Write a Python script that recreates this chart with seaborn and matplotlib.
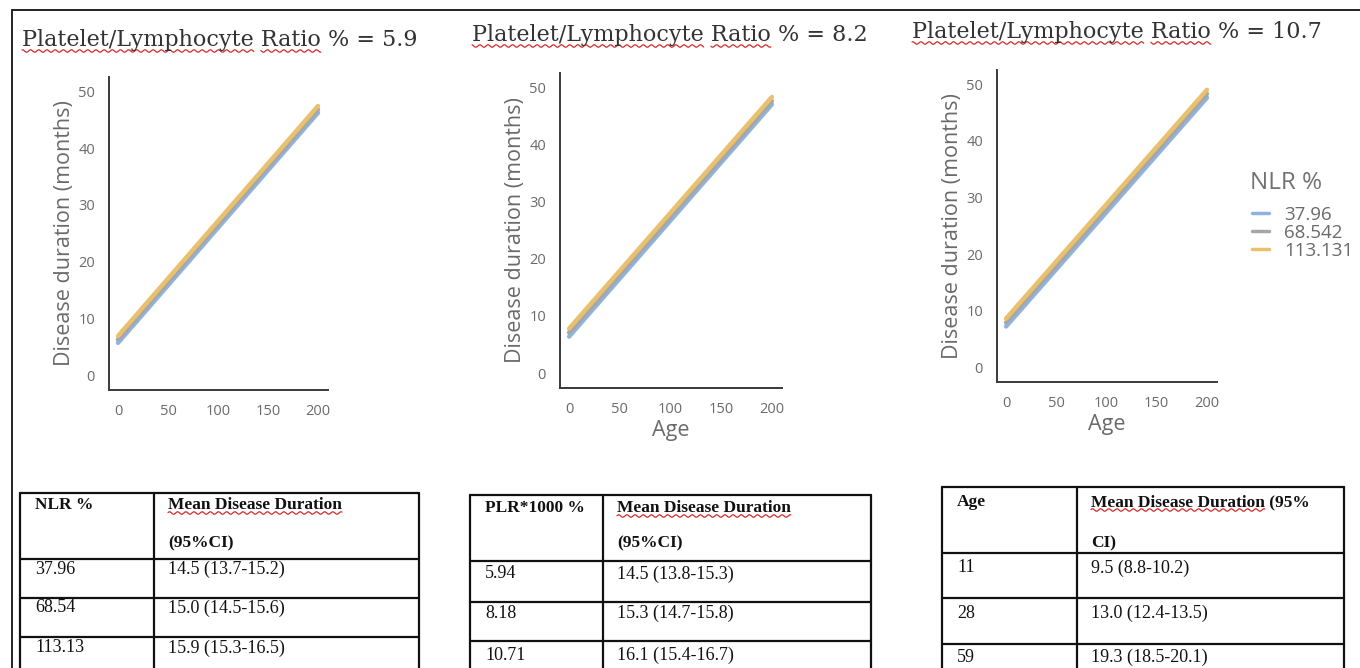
import numpy as np
import pandas as pd
import seaborn as sns
import matplotlib.pyplot as plt

# ------------------------------------------
# DATA
# ------------------------------------------
age_range = [0, 200]
nlr_levels = ["37.96", "68.542", "113.131"]
line_colors = ["#8fb3e0", "#a6a6a6", "#e8c06e"]

# predicted disease duration at age 0 and age 200, per NLR level
p1_start = [5.7, 6.3, 6.9]
p1_end = [46.2, 46.8, 47.4]
p2_start = [6.4, 7.1, 7.8]
p2_end = [47.0, 47.6, 48.3]
p3_start = [7.2, 7.9, 8.6]
p3_end = [47.6, 48.3, 49.0]

plr_values = ["5.9", "8.2", "10.7"]

# tables
t1_head = ["NLR %", "Mean Disease Duration", "(95%CI)"]
t1_col1 = ["37.96", "68.54", "113.13"]
t1_col2 = ["14.5 (13.7-15.2)", "15.0 (14.5-15.6)", "15.9 (15.3-16.5)"]

t2_head = ["PLR*1000 %", "Mean Disease Duration", "(95%CI)"]
t2_col1 = ["5.94", "8.18", "10.71"]
t2_col2 = ["14.5 (13.8-15.3)", "15.3 (14.7-15.8)", "16.1 (15.4-16.7)"]

t3_head = ["Age", "Mean Disease Duration (95%", "CI)"]
t3_col1 = ["11", "28", "59"]
t3_col2 = ["9.5 (8.8-10.2)", "13.0 (12.4-13.5)", "19.3 (18.5-20.1)"]


def make_frame(start, end):
    rows = []
    for lvl, s, e in zip(nlr_levels, start, end):
        rows.append({"Age": age_range[0], "Duration": s, "NLR %": lvl})
        rows.append({"Age": age_range[1], "Duration": e, "NLR %": lvl})
    return pd.DataFrame(rows)


frames = [make_frame(p1_start, p1_end),
          make_frame(p2_start, p2_end),
          make_frame(p3_start, p3_end)]

# ------------------------------------------
# FIGURE
# ------------------------------------------
sns.set_style("white")
plt.rcParams['font.family'] = ['Open Sans', 'DejaVu Sans']

W, H = 1360, 668
fig = plt.figure(figsize=(W / 100, H / 100), dpi=100)
fig.patch.set_facecolor("white")

# background axes in pixel coordinates (border, titles, tables)
bg = fig.add_axes([0, 0, 1, 1])
bg.set_xlim(0, W)
bg.set_ylim(H, 0)
bg.axis("off")

# outer frame of the screenshot
bg.plot([12, W], [10, 10], color="#222222", lw=1.4)
bg.plot([12, 12], [10, H], color="#222222", lw=1.4)

fig.canvas.draw()
renderer = fig.canvas.get_renderer()


def squiggle(x, y, words, **props):
    # red spell-check wave under some words of a text
    full = ""
    for w in words:
        pre = bg.text(x, y, full, **props)
        seg = bg.text(x, y, full + w, **props)
        x0 = pre.get_window_extent(renderer).x1 if full else pre.get_window_extent(renderer).x0
        bb = seg.get_window_extent(renderer)
        pre.remove()
        seg.remove()
        if w.strip():
            xs = np.linspace(x0, bb.x1, int((bb.x1 - x0) * 2) + 2)
            ys = (H - bb.y0) + 1.2 * np.sin(xs / 1.3)
            bg.plot(xs, ys, color="#d42a2a", lw=0.9)
        full = full + w


def px_axes(left, top, right, bottom):
    return fig.add_axes([left / W, 1 - bottom / H, (right - left) / W, (bottom - top) / H])


boxes = [(109, 77, 328, 390), (560, 73, 782, 388), (997, 70, 1217, 382)]
title_pos = [(22, 40), (472, 35), (912, 32)]
xlabels = ["", "Age", "Age"]

palette = dict(zip(nlr_levels, line_colors))
title_props = dict(fontsize=16, family="DejaVu Serif", color="#333333",
                   va="center", ha="left")

for i, (box, df) in enumerate(zip(boxes, frames)):
    ax = px_axes(*box)
    sns.lineplot(data=df, x="Age", y="Duration", hue="NLR %",
                 palette=palette, linewidth=3.2, ax=ax, legend=(i == 2))
    ax.set_xlim(-9, 210)
    ax.set_ylim(-2.6, 52.5)
    ax.set_xticks([0, 50, 100, 150, 200])
    ax.set_yticks([0, 10, 20, 30, 40, 50])
    sns.despine(ax=ax)
    for sp in ["left", "bottom"]:
        ax.spines[sp].set_color("#3a3a3a")
        ax.spines[sp].set_linewidth(1.4)
    ax.tick_params(axis="both", direction="out", length=4, width=1.2,
                   color="#3a3a3a", labelcolor="#6a6a6a", labelsize=10.5, pad=6)
    ax.set_ylabel("Disease duration (months)", fontsize=15.5, color="#6a6a6a", labelpad=2)
    ax.set_xlabel(xlabels[i], fontsize=15.5, color="#6a6a6a", labelpad=2)
    ax.set_facecolor("white")

    if i == 2:
        leg = ax.legend(loc="upper left",
                        bbox_to_anchor=(1252 / W, 1 - 206 / H),
                        bbox_transform=fig.transFigure, frameon=False,
                        fontsize=13.5, handlelength=0.9,
                        handletextpad=0.8, labelspacing=0.0, borderaxespad=0,
                        borderpad=0)
        for t in leg.get_texts():
            t.set_color("#6a6a6a")
        for h in leg.get_lines():
            h.set_linewidth(2.5)
        bg.text(1250, 183, "NLR %", fontsize=17.5, color="#727272",
                va="center", ha="left")

    tx, ty = title_pos[i]
    bg.text(tx, ty, "Platelet/Lymphocyte Ratio % = " + plr_values[i], **title_props)
    squiggle(tx, ty, ["Platelet/Lymphocyte", " ", "Ratio"], **title_props)

# ------------------------------------------
# TABLES
# ------------------------------------------
serif = "Liberation Serif"
body = dict(fontsize=13, family=serif, va="center", ha="left", color="#111111")
head = dict(fontsize=12.5, family=serif, va="center", ha="left",
            color="#111111", weight="bold")


def draw_table(left, div, right, rows_y, hdr, col1, col2, hdr_y, row_dy):
    top, bottom = rows_y[0], H + 5
    for y in rows_y:
        bg.plot([left, right], [y, y], color="#111111", lw=1.6)
    for x in [left, div, right]:
        bg.plot([x, x], [top, bottom], color="#111111", lw=1.6)
    bg.text(left + 15, hdr_y[0], hdr[0], **head)
    bg.text(div + 14, hdr_y[0], hdr[1], **head)
    squiggle(div + 14, hdr_y[0], ["Mean Disease Duration"], **head)
    bg.text(div + 14, hdr_y[1], hdr[2], **head)
    for k in range(3):
        y = rows_y[k + 1] + row_dy[k]
        bg.text(left + 15, y, col1[k], **body)
        bg.text(div + 14, y, col2[k], **body)


draw_table(20, 154, 419, [493, 559, 598, 637], t1_head, t1_col1, t1_col2,
           [505, 543], [10, 10, 11])
draw_table(470, 603, 871, [495, 561, 602, 641], t2_head, t2_col1, t2_col2,
           [508, 543], [13, 11, 14])
draw_table(942, 1077, 1344, [487, 553, 598, 644], t3_head, t3_col1, t3_col2,
           [502, 543], [15, 15, 13])

fig.savefig("out.png", dpi=100, facecolor="white")
